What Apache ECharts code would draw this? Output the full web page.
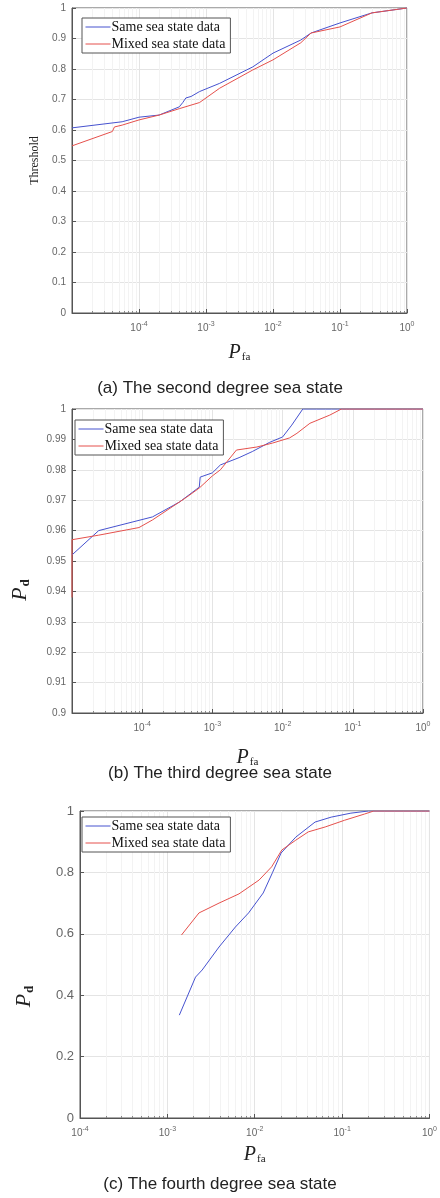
<!DOCTYPE html>
<html>
<head>
<meta charset="utf-8">
<script src="https://cdn.jsdelivr.net/npm/echarts@6/dist/echarts.min.js"></script>
<style>
html, body { margin: 0; padding: 0; background: #fff; }
#main { width: 440px; height: 1198px; }
</style>
</head>
<body>
<div id="main"></div>
<script>
var seriesNames = ['Same sea state data', 'Mixed sea state data'];
var panelTitles = ['(a) The second degree sea state', '(b) The third degree sea state', '(c) The fourth degree sea state'];

// (a) threshold vs Pfa
var sameA = [[1e-5,0.607],[5.6e-5,0.627],[1e-4,0.642],[2e-4,0.649],[4e-4,0.676],[4.5e-4,0.69],[5e-4,0.705],[6e-4,0.71],[8e-4,0.726],[1.6e-3,0.753],[5e-3,0.807],[1e-2,0.852],[2.6e-2,0.895],[3.7e-2,0.918],[0.1,0.951],[0.3,0.984],[1,1]];
var mixedA = [[1e-5,0.548],[4e-5,0.595],[4.3e-5,0.61],[5.6e-5,0.616],[1e-4,0.633],[2e-4,0.649],[4e-4,0.67],[8e-4,0.69],[1.6e-3,0.737],[5e-3,0.797],[1e-2,0.83],[2.6e-2,0.886],[3.7e-2,0.918],[0.1,0.938],[0.3,0.984],[1,1]];

// (b) Pd vs Pfa
var sameB = [[1e-5,0.952],[2.4e-5,0.960],[1.4e-4,0.9645],[3.4e-4,0.9694],[6.5e-4,0.9743],[6.7e-4,0.9776],[1e-3,0.979],[1.3e-3,0.9816],[2.4e-3,0.984],[3.7e-3,0.986],[6.5e-3,0.989],[1e-2,0.9908],[1.35e-2,0.9947],[1.94e-2,1.0],[1,1]];
var mixedB = [[1e-5,0.938],[1e-5,0.957],[2.4e-5,0.9585],[9e-5,0.961],[1.4e-4,0.9635],[4.3e-4,0.971],[6.5e-4,0.974],[1e-3,0.978],[1.3e-3,0.98],[2.2e-3,0.9865],[4.3e-3,0.9875],[7.2e-3,0.9888],[1.26e-2,0.9905],[1.6e-2,0.992],[2.45e-2,0.9953],[4.7e-2,0.998],[6.9e-2,1.0],[1,1]];

// (c) Pd vs Pfa
var sameC = [[1.37e-3,0.335],[2.1e-3,0.459],[2.5e-3,0.482],[3.9e-3,0.557],[6e-3,0.622],[8.5e-3,0.668],[1.25e-2,0.733],[1.6e-2,0.80],[2e-2,0.863],[2.95e-2,0.915],[4.9e-2,0.964],[7.5e-2,0.98],[0.126,0.993],[0.2,1.0],[1,1]];
var mixedC = [[1.45e-3,0.596],[2.3e-3,0.668],[3e-3,0.684],[3.9e-3,0.70],[6.6e-3,0.73],[1.12e-2,0.775],[1.56e-2,0.818],[2.04e-2,0.873],[2.95e-2,0.905],[4.1e-2,0.932],[6.4e-2,0.948],[0.107,0.97],[0.18,0.99],[0.23,1],[1,1]];

var myChart = echarts.init(document.getElementById('main'), null, {renderer: 'canvas'});

var blue = '#4652cf';
var red = '#e5504c';
var serif = '"Liberation Serif", "Times New Roman", serif';
var sans = '"Liberation Sans", Arial, sans-serif';

var pfaName = '{p|P}{f|fa}';
var pfaRich = {
    p: {fontFamily: serif, fontStyle: 'italic', fontSize: 20, color: '#222'},
    f: {fontFamily: serif, fontSize: 11, color: '#222', padding: [9, 0, 0, 1]}
};
var pdName = '{p|P}{d|d}';
var pdRich = {
    p: {fontFamily: serif, fontStyle: 'italic', fontSize: 22, color: '#222'},
    d: {fontFamily: serif, fontWeight: 'bold', fontSize: 13, color: '#222', padding: [10, 0, 0, 1]}
};

function xAxisFor(gi, min, hideMin, nameGap) {
    return {
        type: 'log',
        logBase: 10,
        gridIndex: gi,
        min: min,
        max: 1,
        axisLine: {lineStyle: {color: '#555'}},
        axisTick: {inside: true, length: 4, lineStyle: {color: '#555'}},
        minorTick: {show: true, splitNumber: 9, length: 2, lineStyle: {color: '#888'}},
        splitLine: {show: true, lineStyle: {color: '#e4e4e4'}},
        minorSplitLine: {show: true, lineStyle: {color: '#f3f3f3'}},
        axisLabel: {
            margin: 8,
            formatter: function (v) {
                var e = Math.round(Math.log10(v));
                if (hideMin && Math.abs(v - min) < min * 0.01) return '';
                return '{b|10}{s|' + e + '}';
            },
            rich: {
                b: {fontFamily: sans, fontSize: 10, color: '#666'},
                s: {fontFamily: sans, fontSize: 7, color: '#666', padding: [0, 0, 7, 0]}
            }
        },
        name: pfaName,
        nameLocation: 'middle',
        nameGap: nameGap,
        nameTextStyle: {rich: pfaRich}
    };
}

function yAxisFor(gi, min, max, interval, name, nameStyle, nameGap, fontSize) {
    return {
        type: 'value',
        gridIndex: gi,
        min: min,
        max: max,
        interval: interval,
        axisLine: {show: true, lineStyle: {color: '#555'}},
        axisTick: {show: true, inside: true, length: 4, lineStyle: {color: '#555'}},
        splitLine: {show: true, lineStyle: {color: '#e4e4e4'}},
        axisLabel: {
            fontFamily: sans, fontSize: fontSize, color: '#666', margin: 6,
            formatter: function (v) { return String(+v.toFixed(2)); }
        },
        name: name,
        nameLocation: 'middle',
        nameGap: nameGap,
        nameRotate: 90,
        nameTextStyle: nameStyle
    };
}

function legendFor(left, top) {
    return {
        data: seriesNames,
        left: left,
        top: top,
        orient: 'vertical',
        itemWidth: 25,
        itemHeight: 10,
        itemGap: 3,
        padding: [2, 5, 2, 3],
        backgroundColor: '#fff',
        borderColor: '#555',
        borderWidth: 1,
        borderRadius: 0,
        itemStyle: {opacity: 0},
        lineStyle: {width: 1},
        textStyle: {fontFamily: serif, fontSize: 14, color: '#111', padding: [0, 0, 0, -4]}
    };
}

function line(name, gi, data, color) {
    return {
        name: name,
        type: 'line',
        xAxisIndex: gi,
        yAxisIndex: gi,
        data: data,
        symbol: 'none',
        color: color,
        lineStyle: {width: 1, color: color},
        animation: false
    };
}

option = {
    backgroundColor: '#fff',
    animation: false,
    title: [
        {text: panelTitles[0], left: 'center', top: 375, textStyle: {fontFamily: sans, fontSize: 17, fontWeight: 'normal', color: '#222'}},
        {text: panelTitles[1], left: 'center', top: 760, textStyle: {fontFamily: sans, fontSize: 17, fontWeight: 'normal', color: '#222'}},
        {text: panelTitles[2], left: 'center', top: 1171, textStyle: {fontFamily: sans, fontSize: 17, fontWeight: 'normal', color: '#222'}}
    ],
    grid: [
        {left: 72, top: 8, width: 335, height: 305, show: true, borderColor: '#555', borderWidth: 1, backgroundColor: '#fff'},
        {left: 72, top: 409, width: 351, height: 304, show: true, borderColor: '#555', borderWidth: 1, backgroundColor: '#fff'},
        {left: 80, top: 811, width: 353, height: 307, show: true, borderColor: '#555', borderWidth: 1, backgroundColor: '#fff'}
    ],
    xAxis: [
        xAxisFor(0, 1e-5, true, 30),
        xAxisFor(1, 1e-5, true, 35),
        xAxisFor(2, 1e-4, false, 27)
    ],
    yAxis: [
        yAxisFor(0, 0, 1, 0.1, 'Threshold', {fontFamily: serif, fontSize: 12, color: '#222'}, 30, 10),
        yAxisFor(1, 0.9, 1, 0.01, pdName, {rich: pdRich, padding: [0, 58, 0, 0]}, 40, 10),
        yAxisFor(2, 0, 1, 0.2, pdName, {rich: pdRich, padding: [0, 64, 0, 0]}, 44, 13)
    ],
    legend: [
        legendFor(82, 18),
        legendFor(75, 420),
        legendFor(82, 817)
    ],
    series: [
        line(seriesNames[0], 0, sameA, blue),
        line(seriesNames[1], 0, mixedA, red),
        line(seriesNames[0], 1, sameB, blue),
        line(seriesNames[1], 1, mixedB, red),
        line(seriesNames[0], 2, sameC, blue),
        line(seriesNames[1], 2, mixedC, red)
    ]
};

myChart.setOption(option);
</script>
</body>
</html>
